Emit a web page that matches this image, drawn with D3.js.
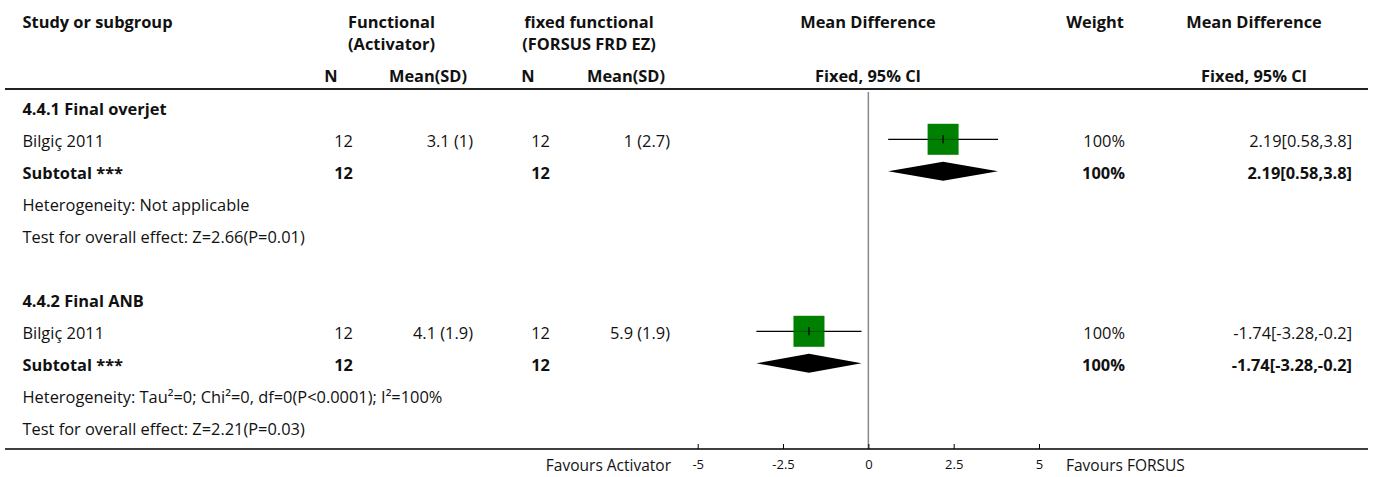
<!DOCTYPE html>
<html>
<head>
<meta charset="utf-8">
<script src="https://cdn.jsdelivr.net/npm/d3@7"></script>
<style>
  body { margin: 0; background: #fff; }
  svg text { font-family: "Open Sans", "Noto Sans", sans-serif; fill: #111; }
  .bold { font-weight: 700; }
  .tick text { font-family: "Open Sans", sans-serif; }
</style>
</head>
<body>
<div id="chart"></div>
<script>
// Forest plot data
var groups         = ['4.4.1 Final overjet', '4.4.2 Final ANB'];
var studies        = ['Bilgiç 2011', 'Bilgiç 2011'];
var n_activator    = [12, 12];
var msd_activator  = ['3.1 (1)', '4.1 (1.9)'];
var n_forsus       = [12, 12];
var msd_forsus     = ['1 (2.7)', '5.9 (1.9)'];
var mean_diff      = [2.19, -1.74];
var ci_low         = [0.58, -3.28];
var ci_high        = [3.8, -0.2];
var weights        = [100, 100];
var heterogeneity  = ['Heterogeneity: Not applicable',
                      'Heterogeneity: Tau\u00b2=0; Chi\u00b2=0, df=0(P<0.0001); I\u00b2=100%'];
var overall_effect = ['Test for overall effect: Z=2.66(P=0.01)',
                      'Test for overall effect: Z=2.21(P=0.03)'];
var x_ticks        = [-5, -2.5, 0, 2.5, 5];
var x_domain       = [-5, 5];

var width  = 1373;
var height = 477;
var font_size = 16.4;

var svg = d3.select('#chart')
    .append('svg')
    .attr('width', width)
    .attr('height', height);

// scales
var x_scale = d3.scaleLinear()
    .domain(x_domain)
    .range([697.7, 1039]);

// row index -> text baseline
var y_scale = d3.scaleLinear()
    .domain([0, 10])
    .range([115, 435]);

function addText(x, y, txt, anchor, bold, size) {
    return svg.append('text')
        .attr('x', x)
        .attr('y', y)
        .attr('text-anchor', anchor || 'start')
        .attr('class', bold ? 'bold' : null)
        .style('font-size', (size || font_size) + 'px')
        .text(txt);
}

// header
addText(22.5, 28, 'Study or subgroup', 'start', true);
addText(391.5, 28, 'Functional', 'middle', true);
addText(391.5, 50, '(Activator)', 'middle', true);
addText(589, 28, 'fixed functional', 'middle', true);
addText(589, 50, '(FORSUS FRD EZ)', 'middle', true);
addText(868, 28, 'Mean Difference', 'middle', true);
addText(868, 82, 'Fixed, 95% CI', 'middle', true);
addText(1095, 28, 'Weight', 'middle', true);
addText(1254, 28, 'Mean Difference', 'middle', true);
addText(1254, 82, 'Fixed, 95% CI', 'middle', true);
addText(331, 82, 'N', 'middle', true);
addText(428, 82, 'Mean(SD)', 'middle', true);
addText(528, 82, 'N', 'middle', true);
addText(626, 82, 'Mean(SD)', 'middle', true);

svg.append('line')
    .attr('x1', 5).attr('x2', 1368)
    .attr('y1', 89).attr('y2', 89)
    .attr('stroke', '#222')
    .attr('stroke-width', 2);

// zero line
svg.append('line')
    .attr('x1', x_scale(0)).attr('x2', x_scale(0))
    .attr('y1', 92).attr('y2', 449)
    .attr('stroke', '#888')
    .attr('stroke-width', 1.5);

var sq_size   = 31;
var dia_half  = 9.5;
var mark_off  = 7.7;

groups.forEach(function(g, i) {
    var r = i * 6;

    addText(22.5, y_scale(r), g, 'start', true);

    // study row
    var yb = y_scale(r + 1);
    addText(22.5, yb, studies[i]);
    addText(353, yb, n_activator[i], 'end');
    addText(473, yb, msd_activator[i], 'end');
    addText(550, yb, n_forsus[i], 'end');
    addText(670, yb, msd_forsus[i], 'end');
    addText(1125, yb, weights[i] + '%', 'end');
    addText(1352, yb, mean_diff[i] + '[' + ci_low[i] + ',' + ci_high[i] + ']', 'end');

    var yc = yb - mark_off;
    svg.append('line')
        .attr('x1', x_scale(ci_low[i])).attr('x2', x_scale(ci_high[i]))
        .attr('y1', yc).attr('y2', yc)
        .attr('stroke', '#000')
        .attr('stroke-width', 1.3);
    svg.append('rect')
        .attr('x', x_scale(mean_diff[i]) - sq_size / 2)
        .attr('y', yc - sq_size / 2)
        .attr('width', sq_size)
        .attr('height', sq_size)
        .attr('fill', '#008000');
    svg.append('line')
        .attr('x1', x_scale(mean_diff[i])).attr('x2', x_scale(mean_diff[i]))
        .attr('y1', yc - 4).attr('y2', yc + 4)
        .attr('stroke', '#000')
        .attr('stroke-width', 1.3);
    svg.append('line')
        .attr('x1', x_scale(mean_diff[i]) - sq_size / 2).attr('x2', x_scale(mean_diff[i]) + sq_size / 2)
        .attr('y1', yc).attr('y2', yc)
        .attr('stroke', '#000')
        .attr('stroke-opacity', 0.35)
        .attr('stroke-width', 1);

    // subtotal row
    var ys = y_scale(r + 2);
    addText(22.5, ys, 'Subtotal ***', 'start', true);
    addText(353, ys, n_activator[i], 'end', true);
    addText(550, ys, n_forsus[i], 'end', true);
    addText(1125, ys, weights[i] + '%', 'end', true);
    addText(1352, ys, mean_diff[i] + '[' + ci_low[i] + ',' + ci_high[i] + ']', 'end', true);

    var yd = ys - mark_off;
    svg.append('path')
        .attr('d', d3.line()([
            [x_scale(ci_low[i]), yd],
            [x_scale(mean_diff[i]), yd - dia_half],
            [x_scale(ci_high[i]), yd],
            [x_scale(mean_diff[i]), yd + dia_half]
        ]) + 'Z')
        .attr('fill', '#000');

    addText(22.5, y_scale(r + 3), heterogeneity[i]);
    addText(22.5, y_scale(r + 4), overall_effect[i]);
});

// bottom axis
svg.append('line')
    .attr('x1', 5).attr('x2', 1368)
    .attr('y1', 449).attr('y2', 449)
    .attr('stroke', '#000')
    .attr('stroke-width', 1.5);

var x_axis = d3.axisBottom(x_scale)
    .tickValues(x_ticks)
    .tickFormat(function(d) { return String(d); })
    .tickSizeInner(-5)
    .tickSizeOuter(0)
    .tickPadding(11);

var ax = svg.append('g')
    .attr('transform', 'translate(0,449)')
    .call(x_axis);
ax.select('.domain').remove();
ax.selectAll('.tick line').attr('stroke', '#000');
ax.selectAll('.tick text').style('font-size', '13px').attr('fill', '#111');

addText(671, 471, 'Favours Activator', 'end', false, 15.5);
addText(1066, 471, 'Favours FORSUS', 'start', false, 15.5);
</script>
</body>
</html>
